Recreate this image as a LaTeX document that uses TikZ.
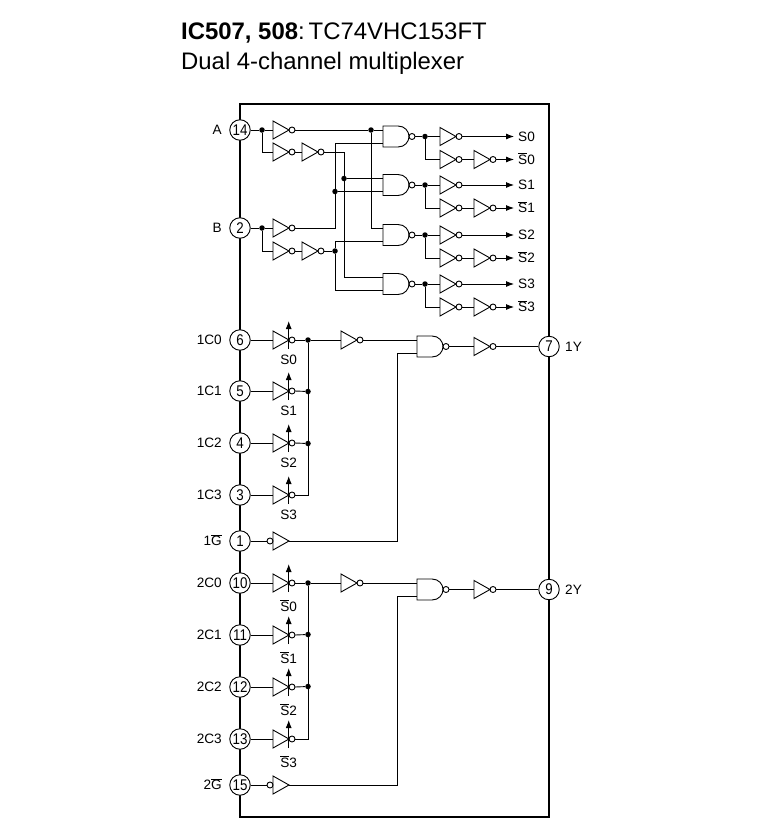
\documentclass[tikz,border=0pt]{standalone}
\usepackage{fontspec}
\setmainfont{Liberation Sans}
\newfontfamily\pinface[FakeStretch=0.86]{Liberation Sans}
\usetikzlibrary{arrows.meta}
\newcommand{\bigfont}{\fontsize{23.9}{28}\selectfont}
\newcommand{\labfont}{\fontsize{13.6}{15}\selectfont}
\newcommand{\pinfont}{\pinface\fontsize{15.5}{17}\selectfont}
\tikzset{
  wire/.style={line width=.9pt},
  tip/.style={-{Latex[length=8pt,width=6pt]}},
  pin/.style={circle,draw,fill=white,line width=.9pt,minimum size=20.5pt,inner sep=0pt,font=\pinfont},
  jdot/.style={circle,fill=black,inner sep=0pt,minimum size=5.5pt},
  lab/.style={font=\labfont,inner sep=0pt,text height=9.6pt,text depth=0pt},
  inv/.pic={
    \draw[wire] (0,-9) -- (16,0) -- (0,9) -- cycle;
    \draw[wire] (19,0) circle (3pt);
    \coordinate (-in) at (0,0);
    \coordinate (-out) at (22,0);
  },
  buf/.pic={
    \draw[wire] (0,-9) -- (16,0) -- (0,9) -- cycle;
    \draw[wire] (-3,0) circle (3pt);
    \coordinate (-in) at (-6,0);
    \coordinate (-out) at (16,0);
  },
  tri/.pic={
    \draw[wire] (0,-9) -- (16,0) -- (0,9) -- cycle;
    \draw[wire] (19,0) circle (3pt);
    \draw[wire,tip] (15.7,9) -- (15.7,-19);
    \coordinate (-in) at (0,0);
    \coordinate (-out) at (22,0);
  },
  nand/.pic={
    \draw[wire] (0,-10.5) -- (15,-10.5) .. controls (22,-10.5) and (26,-5) .. (26,0) .. controls (26,5) and (22,10.5) .. (15,10.5) -- (0,10.5) -- cycle;
    \draw[wire] (29,0) circle (3pt);
    \coordinate (-a) at (0,-6.5);
    \coordinate (-b) at (0,6.5);
    \coordinate (-out) at (32,0);
  }
}
\begin{document}
\begin{tikzpicture}[x=1pt,y=-1pt]
\useasboundingbox (0,0) rectangle (770,819);
\node[anchor=base west,inner sep=0pt,font=\bigfont] (title) at (181,39) {\textbf{IC507, 508}:\,TC74VHC153FT};
\node[anchor=base west,inner sep=0pt,font=\bigfont] (subtitle) at (181,69) {Dual 4-channel multiplexer};
\draw[line width=1.8pt] (240,104) rectangle (549,817);

% pins
\foreach \n/\t/\y in {14/A/130,2/B/228,6/1C0/340,5/1C1/391,4/1C2/443,3/1C3/495,1/1$\overline{\mbox{G}}$/541,10/2C0/583,11/2C1/635,12/2C2/687,13/2C3/739,15/2$\overline{\mbox{G}}$/785}{
\node[pin] (p\n) at (240,\y) {\n};
\node[lab,anchor=east] (l\n) at (222,\y) {\t};
}
\node[pin] (p7) at (549,346.5) {7};
\node[lab,anchor=west] (l7) at (565,346.5) {1Y};
\node[pin] (p9) at (549,589.5) {9};
\node[lab,anchor=west] (l9) at (565,589.5) {2Y};

% address decode
\pic (ia) at (273,130) {inv};
\pic (ib) at (273,152) {inv};
\pic (ic) at (302,152) {inv};
\pic (id) at (273,228) {inv};
\pic (ie) at (273,251) {inv};
\pic (if) at (302,251) {inv};
\node[jdot] (da) at (262,130) {};
\node[jdot] (db) at (262,228) {};
\node[jdot] (dc) at (371,130) {};
\node[jdot] (dd) at (344,178.5) {};
\node[jdot] (de) at (335,191.5) {};
\node[jdot] (df) at (335,251) {};
\foreach \i/\y in {0/136.5,1/185,2/235,3/284}{
\pic (nand\i) at (383,\y) {nand};
\pic (sa\i) at (440,\y) {inv};
\pic (sb\i) at (440,\y+23) {inv};
\pic (sc\i) at (474,\y+23) {inv};
\node[jdot] (sd\i) at (425,\y) {};
\node[lab,anchor=west] (s\i) at (518,\y) {S\i};
\node[lab,anchor=west] (t\i) at (518,\y+23) {$\overline{\mbox{S}}$\i};
\draw[wire] (nand\i-out) -- (sd\i) -- (sa\i-in);
\draw[wire] (sd\i) |- (sb\i-in);
\draw[wire] (sb\i-out) -- (sc\i-in);
\draw[wire,tip] (sa\i-out) -- ([xshift=-4pt]s\i.west);
\draw[wire,tip] (sc\i-out) -- ([xshift=-4pt]t\i.west);
}
\draw[wire] (p14) -- (da) -- (ia-in);
\draw[wire] (da) |- (ib-in);
\draw[wire] (ib-out) -- (ic-in);
\draw[wire] (p2) -- (db) -- (id-in);
\draw[wire] (db) |- (ie-in);
\draw[wire] (ie-out) -- (if-in);
\draw[wire] (ia-out) -- (dc) -- (dc -| nand0-a);
\draw[wire] (dc) |- (nand2-a);
\draw[wire] (ic-out) -| (dd) |- (nand3-a);
\draw[wire] (dd) -- (nand1-a);
\draw[wire] (id-out) -| (de) |- (nand0-b);
\draw[wire] (de) -- (nand1-b);
\draw[wire] (if-out) -- (df) |- (nand2-b);
\draw[wire] (df) |- (nand3-b);

% channels
\foreach \n/\j/\y in {6/0/340,5/1/391,4/2/443,3/3/495}{
\pic (ga\j) at (273,\y) {tri};
\node[lab,anchor=center] (ea\j) at (288.7,\y+20) {S\j};
\draw[wire] (p\n) -- (ga\j-in);
}
\foreach \n/\j/\y in {10/0/583,11/1/635,12/2/687,13/3/739}{
\pic (gb\j) at (273,\y) {tri};
\node[lab,anchor=center] (eb\j) at (288.7,\y+23.5) {$\overline{\mbox{S}}$\j};
\draw[wire] (p\n) -- (gb\j-in);
}
\foreach \g/\y/\m/\o/\e/\r in {a/340/346.5/7/1/541,b/583/589.5/9/15/785}{
\node[jdot] (j\g0) at (308,\y) {};
\node[jdot] (j\g1) at (308,\y+51.5) {};
\node[jdot] (j\g2) at (308,\y+103.5) {};
\draw[wire] (g\g0-out) -- (j\g0);
\draw[wire] (g\g1-out) -- (j\g1);
\draw[wire] (g\g2-out) -- (j\g2);
\draw[wire] (g\g3-out) -| (j\g0);
\pic (n\g) at (341,\y) {inv};
\pic (y\g) at (417,\m) {nand};
\pic (z\g) at (474,\m) {inv};
\pic (b\g) at (273,\r) {buf};
\draw[wire] (j\g0) -- (n\g-in);
\draw[wire] (n\g-out) -- (y\g-a);
\draw[wire] (y\g-out) -- (z\g-in);
\draw[wire] (z\g-out) -- (p\o);
\draw[wire] (p\e) -- (b\g-in);
\draw[wire] (b\g-out) -| ([xshift=-20pt]y\g-b) -- (y\g-b);
}
\end{tikzpicture}
\end{document}
